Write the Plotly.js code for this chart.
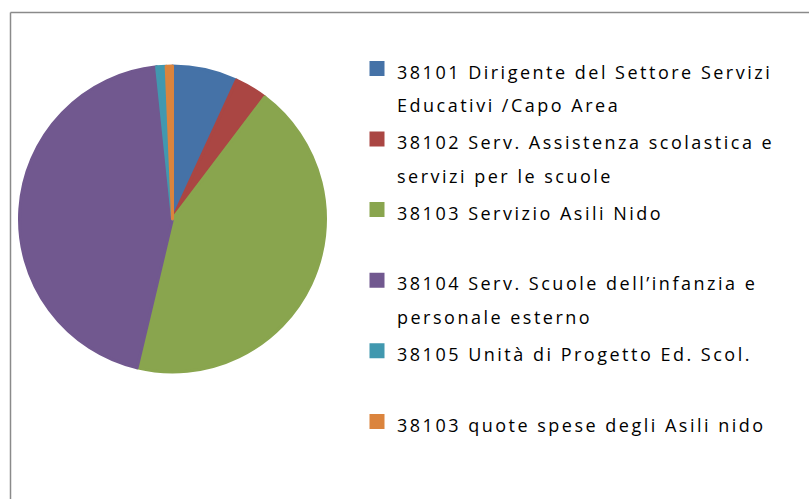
<!DOCTYPE html>
<html>
<head>
<meta charset="utf-8">
<script src="https://cdn.plot.ly/plotly-3.0.1.min.js"></script>
<style>
  html, body { margin: 0; padding: 0; background: #ffffff; }
  #chart { width: 809px; height: 499px; }
</style>
</head>
<body>
<div id="chart"></div>
<script>
const categories = [
  "38101 Dirigente del Settore Servizi<br>Educativi /Capo Area",
  "38102 Serv. Assistenza scolastica e<br>servizi per le scuole",
  "38103 Servizio Asili Nido<br>&nbsp;",
  "38104 Serv. Scuole dell\u2019infanzia e<br>personale esterno",
  "38105 Unità di Progetto Ed. Scol.<br>&nbsp;",
  "38103 quote spese degli Asili nido<br>&nbsp;"
];
const values = [6.86, 3.44, 43.4, 44.6, 1.0, 0.66];
const colors = ["#4572A7", "#AA4643", "#89A54E", "#71588F", "#4198AF", "#DB843D"];

const W = 809, H = 499;
const cx = 172.5, cy = 219, r = 153;

const labels = categories.map(c => '<span style="font-size:18px;letter-spacing:2.5px">' + c + '</span>');

const trace = {
  type: 'pie',
  labels: labels,
  values: values,
  sort: false,
  direction: 'clockwise',
  rotation: 0,
  textinfo: 'none',
  hoverinfo: 'none',
  marker: { colors: colors, line: { color: colors, width: 3 } },
  domain: { x: [(cx - r) / W, (cx + r) / W], y: [1 - (cy + r) / H, 1 - (cy - r) / H] }
};

const layout = {
  width: W, height: H,
  margin: { l: 0, r: 0, t: 0, b: 0, pad: 0 },
  paper_bgcolor: '#ffffff',
  font: { family: 'Open Sans, Liberation Sans, Arial, sans-serif', color: '#000000' },
  showlegend: true,
  legend: {
    x: 357 / W, xanchor: 'left',
    y: 1 - 45 / H, yanchor: 'top',
    valign: 'top',
    bgcolor: 'rgba(0,0,0,0)',
    font: { size: 26, color: '#000000', family: 'Open Sans, Liberation Sans, Arial, sans-serif' }
  },
  shapes: [
    { type: 'line', xref: 'paper', yref: 'paper', x0: 10.5 / W, x1: 10.5 / W, y0: -0.05, y1: 1 - 12.5 / H, line: { color: '#8a8a8a', width: 1.5 } },
    { type: 'line', xref: 'paper', yref: 'paper', x0: 10.5 / W, x1: 1.05, y0: 1 - 12.5 / H, y1: 1 - 12.5 / H, line: { color: '#8a8a8a', width: 1.5 } }
  ]
};

Plotly.newPlot('chart', [trace], layout, { displayModeBar: false, staticPlot: true });
</script>
</body>
</html>
